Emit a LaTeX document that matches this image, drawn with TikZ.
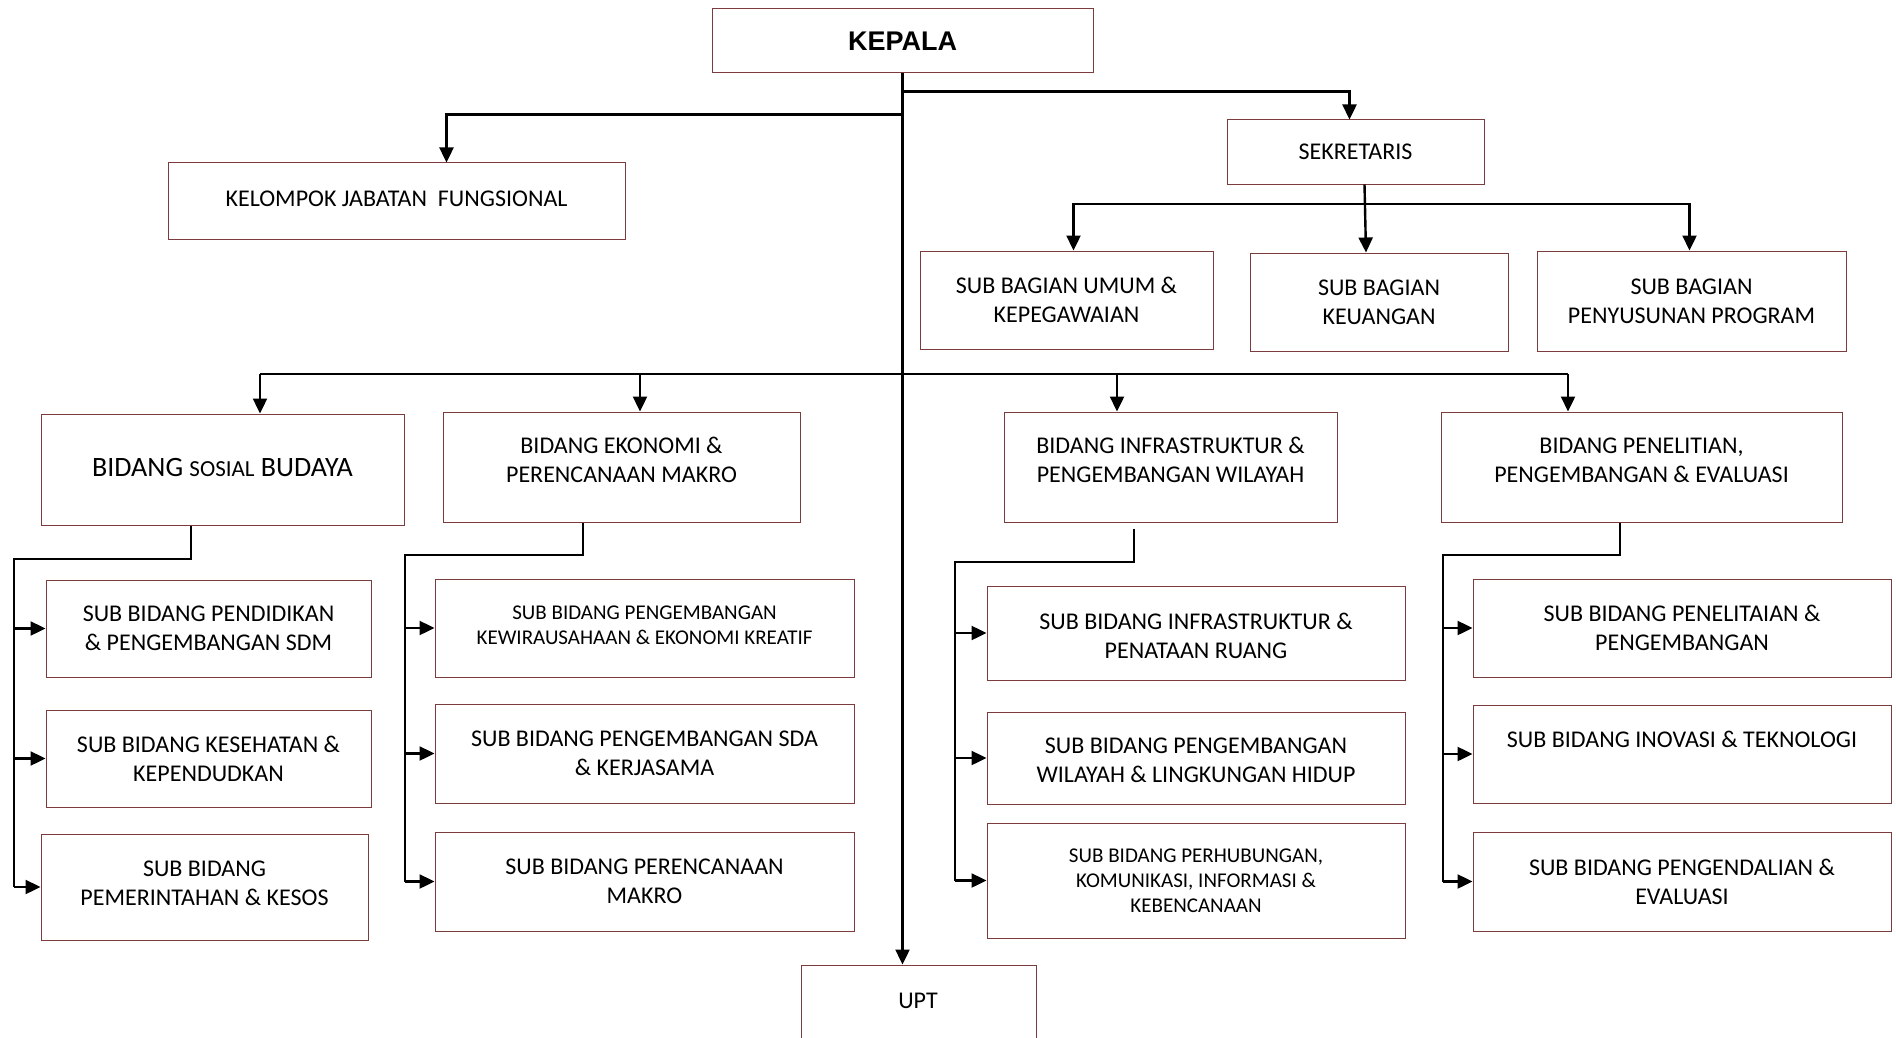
\documentclass[tikz,border=0pt]{standalone}
\usepackage{fontspec}
\setmainfont{Carlito}
\newfontfamily\arialfont{Liberation Sans}
\usetikzlibrary{arrows.meta,fit,calc}
\definecolor{boxred}{RGB}{122,60,60}
\tikzset{
  box/.style={draw=boxred, line width=0.5pt, inner sep=0pt, fill=white},
  txt/.style={align=center, inner sep=0pt, font=\fontsize{12pt}{14.6pt}\selectfont},
  smalltxt/.style={align=center, inner sep=0pt, font=\fontsize{10.5pt}{12.6pt}\selectfont},
  ln/.style={line width=1.2pt, black},
  arr/.style={line width=1.2pt, black, -{Triangle[length=7.5pt,width=7pt]}},
}
\newcommand{\bx}[5][0pt]{%
  \node[box, fit={#3}] (#2) {};
  \node[#4] (#2-t) at ([yshift=#1]#2.center) {#5};}
\begin{document}
\begin{tikzpicture}[x=0.5pt,y=-0.5pt]
\useasboundingbox (0,0) rectangle (1896,1038);
\fill[white] (0,0) rectangle (1896,1038);

% boxes
\bx{kepala}{(712,9) (1093,73)}{txt}{\arialfont\bfseries\fontsize{13.5pt}{15pt}\selectfont KEPALA}
\bx[1pt]{kjf}{(168,163) (625,239)}{txt}{KELOMPOK JABATAN\ \ FUNGSIONAL}
\bx{sek}{(1227,120) (1484,184)}{txt}{SEKRETARIS}
\bx{umum}{(920,251) (1213,349)}{txt}{SUB BAGIAN UMUM \&\\KEPEGAWAIAN}
\bx{keu}{(1250,253) (1508,351)}{txt}{SUB BAGIAN\\KEUANGAN}
\bx{prog}{(1537,251) (1846,351)}{txt}{SUB BAGIAN\\PENYUSUNAN PROGRAM}

\bx[1pt]{sos}{(41,414) (404,525)}{txt}{\fontsize{14pt}{16pt}\selectfont BIDANG {\fontsize{11.5pt}{14pt}\selectfont SOSIAL} BUDAYA}
\bx[3.5pt]{eko}{(443,412) (800,522)}{txt}{BIDANG EKONOMI \&\\PERENCANAAN MAKRO}
\bx[3.5pt]{inf}{(1004,412) (1337,522)}{txt}{BIDANG INFRASTRUKTUR \&\\PENGEMBANGAN WILAYAH}
\bx[3.5pt]{pen}{(1441,412) (1842,522)}{txt}{BIDANG PENELITIAN,\\PENGEMBANGAN \& EVALUASI}

\bx{s1}{(46,580) (371,677)}{txt}{SUB BIDANG PENDIDIKAN\\\& PENGEMBANGAN SDM}
\bx{s2}{(46,710) (371,807)}{txt}{SUB BIDANG KESEHATAN \&\\KEPENDUDKAN}
\bx[2pt]{s3}{(41,834) (368,940)}{txt}{SUB BIDANG\\PEMERINTAHAN \& KESOS}

\bx[1.5pt]{e1}{(435,579) (854,677)}{smalltxt}{SUB BIDANG PENGEMBANGAN\\KEWIRAUSAHAAN \& EKONOMI KREATIF}
\bx{e2}{(435,704) (854,803)}{txt}{SUB BIDANG PENGEMBANGAN SDA\\\& KERJASAMA}
\bx{e3}{(435,832) (854,931)}{txt}{SUB BIDANG PERENCANAAN\\MAKRO}

\bx[-1.5pt]{i1}{(987,586) (1405,680)}{txt}{SUB BIDANG INFRASTRUKTUR \&\\PENATAAN RUANG}
\bx[-1pt]{i2}{(987,712) (1405,804)}{txt}{SUB BIDANG PENGEMBANGAN\\WILAYAH \& LINGKUNGAN HIDUP}
\bx{i3}{(987,823) (1405,938)}{smalltxt}{SUB BIDANG PERHUBUNGAN,\\KOMUNIKASI, INFORMASI \&\\KEBENCANAAN}

\bx{p1}{(1473,579) (1891,677)}{txt}{SUB BIDANG PENELITAIAN \&\\PENGEMBANGAN}
\bx[7.5pt]{p2}{(1473,705) (1891,803)}{txt}{SUB BIDANG INOVASI \& TEKNOLOGI}
\bx{p3}{(1473,832) (1891,931)}{txt}{SUB BIDANG PENGENDALIAN \&\\EVALUASI}

\node[box, fit={(801,965) (1036,1060)}] (upt) {};
\node[txt] (upt-t) at (918,1001) {UPT};

% connectors from KEPALA
\draw[arr] (kepala.south) -- (kepala.south |- upt.north);
\coordinate (jS) at ($(kepala.south)+(0,18)$);
\draw[arr] (jS) -| ($(sek.north)+(-6,0)$);
\coordinate (jK) at ($(kepala.south)+(0,41)$);
\draw[arr] (jK) -| ($(kjf.north)+(50,0)$);

% sekretaris
\draw[arr] ($(sek.south)+(9,0)$) -- ($(keu.north)+(-13,0)$);
\coordinate (jB) at (1366,204);
\draw[arr] (jB) -| ($(umum.north)+(7,0)$);
\draw[arr] (jB) -| ($(prog.north)+(-2,0)$);

% bidang bus
\coordinate (b1) at (260,374);
\coordinate (b2) at (640,374);
\coordinate (b3) at (1117,374);
\coordinate (b4) at (1568,374);
\draw[ln] (b1) -- (b4);
\draw[arr] (b1) -- (b1 |- sos.north);
\draw[arr] (b2) -- (b2 |- eko.north);
\draw[arr] (b3) -- (b3 |- inf.north);
\draw[arr] (b4) -- (b4 |- pen.north);

% sosial group
\coordinate (sD) at (191,559);
\coordinate (sA) at (14,559);
\draw[ln] (sD |- sos.south) -- (sD) -- (sA) -- (sA |- s3.west);
\foreach \b in {s1,s2,s3} \draw[arr] (sA |- \b.west) -- (\b.west);

% ekonomi group
\coordinate (eD) at (583,555);
\coordinate (eA) at (405,555);
\draw[ln] (eD |- eko.south) -- (eD) -- (eA) -- (eA |- e3.west);
\foreach \b in {e1,e2,e3} \draw[arr] (eA |- \b.west) -- (\b.west);

% infrastruktur group
\coordinate (iD) at (1134,562);
\coordinate (iA) at (955,562);
\draw[ln] ($(iD |- inf.south)+(0,6)$) -- (iD) -- (iA) -- (iA |- i3.west);
\foreach \b in {i1,i2,i3} \draw[arr] (iA |- \b.west) -- (\b.west);

% penelitian group
\coordinate (pD) at (1620,555);
\coordinate (pA) at (1443,555);
\draw[ln] (pD |- pen.south) -- (pD) -- (pA) -- (pA |- p3.west);
\foreach \b in {p1,p2,p3} \draw[arr] (pA |- \b.west) -- (\b.west);
\end{tikzpicture}
\end{document}
